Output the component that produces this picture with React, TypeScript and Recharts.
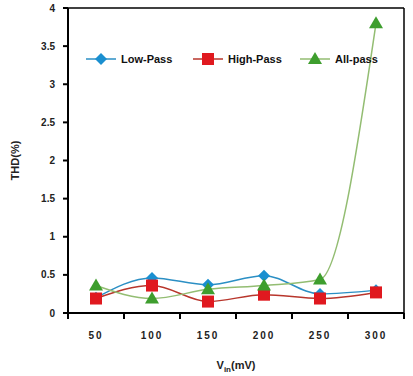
import { LineChart, Line, XAxis, YAxis, Legend, Label } from "recharts";

const inputMv = [50, 100, 150, 200, 250, 300];
const lowPass = [0.2, 0.46, 0.37, 0.49, 0.25, 0.3];
const highPass = [0.19, 0.36, 0.15, 0.24, 0.19, 0.27];
const allPass = [0.36, 0.19, 0.31, 0.36, 0.44, 3.8];
const yTicks = [0, 0.5, 1, 1.5, 2, 2.5, 3, 3.5, 4];
const xBounds = [25, 75, 125, 175, 225, 275, 325];

const data = inputMv.map((mv, i) => ({
  mv,
  low: lowPass[i],
  high: highPass[i],
  all: allPass[i],
}));

const FONT = "'Liberation Sans', Arial, sans-serif";

const marker = (shape: string, color: string, cx: number, cy: number, key?: string) => {
  if (shape === "diamond")
    return (
      <polygon key={key} points={`${cx},${cy - 6} ${cx + 6},${cy} ${cx},${cy + 6} ${cx - 6},${cy}`} fill={color} />
    );
  if (shape === "square")
    return <rect key={key} x={cx - 6} y={cy - 6} width={12} height={12} fill={color} />;
  return (
    <polygon key={key} points={`${cx},${cy - 7} ${cx + 7},${cy + 5} ${cx - 7},${cy + 5}`} fill={color} />
  );
};

const series = [
  { key: "low", name: "Low-Pass", line: "#2b8fc4", fill: "#1a8fd0", shape: "diamond" },
  { key: "high", name: "High-Pass", line: "#b8362c", fill: "#e0191f", shape: "square" },
  { key: "all", name: "All-pass", line: "#93bd72", fill: "#3e9e2e", shape: "triangle" },
];

function LegendBox() {
  return (
    <div style={{ display: "flex", fontFamily: FONT, fontWeight: "bold", fontSize: 11, color: "#111" }}>
      {series.map((s) => (
        <div key={s.key} style={{ display: "flex", alignItems: "center", width: 107 }}>
          <svg width={32} height={14}>
            <line x1={0} y1={7} x2={30} y2={7} stroke={s.line} strokeWidth={1.5} />
            {marker(s.shape, s.fill, 15, 7)}
          </svg>
          <span style={{ marginLeft: 3 }}>{s.name}</span>
        </div>
      ))}
    </div>
  );
}

export default function App() {
  return (
    <div style={{ position: "absolute", left: 0, top: 0, background: "#fff" }}>
      <LineChart width={413} height={376} data={data} margin={{ top: 7, right: 8, bottom: 0, left: 0 }}>
        <XAxis
          xAxisId="bounds"
          dataKey="mv"
          type="number"
          domain={[25, 325]}
          ticks={xBounds}
          interval={0}
          height={8}
          tickSize={0}
          tickMargin={0}
          tickLine={false}
          axisLine={{ stroke: "#000", strokeWidth: 2 }}
          tick={(p: any) => (
            <line x1={p.x} x2={p.x} y1={p.y} y2={p.y + 6} stroke="#000" strokeWidth={2} />
          )}
        />
        <XAxis
          xAxisId="main"
          dataKey="mv"
          type="number"
          domain={[25, 325]}
          ticks={inputMv}
          interval={0}
          height={55}
          axisLine={false}
          tickLine={false}
          tickSize={0}
          tickMargin={11}
          tick={{ fontSize: 10, fontWeight: "bold", fill: "#222", fontFamily: FONT, letterSpacing: 2 }}
        >
          <Label
            content={(p: any) => {
              const vb = p.viewBox;
              return (
                <text
                  x={vb.x + vb.width / 2}
                  y={vb.y + 48}
                  textAnchor="middle"
                  fontFamily={FONT}
                  fontSize={11}
                  fontWeight="bold"
                  fill="#222"
                >
                  <tspan>V</tspan>
                  <tspan dy={3} fontSize={8}>in</tspan>
                  <tspan dy={-3}>(mV)</tspan>
                </text>
              );
            }}
          />
        </XAxis>
        <XAxis
          xAxisId="top"
          orientation="top"
          dataKey="mv"
          type="number"
          domain={[25, 325]}
          height={1}
          tick={false}
          tickLine={false}
          axisLine={{ stroke: "#000", strokeWidth: 1.5 }}
        />
        <YAxis
          yAxisId="left"
          type="number"
          domain={[0, 4]}
          ticks={yTicks}
          interval={0}
          width={68}
          tickSize={5}
          tickMargin={8}
          axisLine={{ stroke: "#000", strokeWidth: 2 }}
          tickLine={{ stroke: "#000", strokeWidth: 2 }}
          tick={{ fontSize: 10, fontWeight: "bold", fill: "#222", fontFamily: FONT }}
        >
          <Label
            content={(p: any) => {
              const vb = p.viewBox;
              const cy = vb.y + vb.height / 2;
              return (
                <text
                  x={15}
                  y={cy}
                  transform={`rotate(-90 15 ${cy})`}
                  textAnchor="middle"
                  dominantBaseline="central"
                  fontFamily={FONT}
                  fontSize={11}
                  fontWeight="bold"
                  fill="#222"
                >
                  THD(%)
                </text>
              );
            }}
          />
        </YAxis>
        <YAxis
          yAxisId="right"
          orientation="right"
          type="number"
          domain={[0, 4]}
          width={1}
          tick={false}
          tickLine={false}
          axisLine={{ stroke: "#000", strokeWidth: 1.5 }}
        />
        <Legend
          verticalAlign="middle"
          align="center"
          layout="horizontal"
          content={() => <LegendBox />}
          wrapperStyle={{ top: 52, left: 86, width: "auto" }}
        />
        {series.map((s) => (
          <Line
            key={s.key}
            xAxisId="main"
            yAxisId="left"
            dataKey={s.key}
            name={s.name}
            type="monotone"
            stroke={s.line}
            strokeWidth={1.5}
            isAnimationActive={false}
            dot={(p: any) => marker(s.shape, s.fill, p.cx, p.cy, `${s.key}-${p.index}`)}
            activeDot={false}
          />
        ))}
      </LineChart>
    </div>
  );
}
